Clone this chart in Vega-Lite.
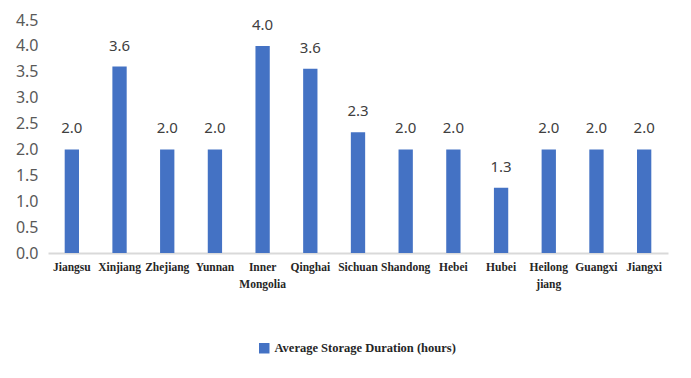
{
  "$schema": "https://vega.github.io/schema/vega-lite/v6.json",
  "width": 620,
  "height": 233,
  "autosize": {"type": "none"},
  "padding": {"left": 48, "top": 20, "right": 23, "bottom": 125},
  "background": "white",
  "config": {"view": {"stroke": null}},
  "data": {
    "values": [
      {"province": "Jiangsu", "hours": 2.0},
      {"province": "Xinjiang", "hours": 3.6},
      {"province": "Zhejiang", "hours": 2.0},
      {"province": "Yunnan", "hours": 2.0},
      {"province": "Inner Mongolia", "hours": 4.0},
      {"province": "Qinghai", "hours": 3.56},
      {"province": "Sichuan", "hours": 2.33},
      {"province": "Shandong", "hours": 2.0},
      {"province": "Hebei", "hours": 2.0},
      {"province": "Hubei", "hours": 1.26},
      {"province": "Heilongjiang", "hours": 2.0},
      {"province": "Guangxi", "hours": 2.0},
      {"province": "Jiangxi", "hours": 2.0}
    ]
  },
  "encoding": {
    "x": {
      "field": "province",
      "type": "nominal",
      "sort": null,
      "scale": {"paddingInner": 0.7, "paddingOuter": 0.35},
      "axis": {
        "title": null,
        "labelAngle": 0,
        "labelFont": "Liberation Serif",
        "labelFontWeight": "bold",
        "labelFontSize": 11.5,
        "labelColor": "#262626",
        "labelPadding": 8,
        "labelLineHeight": 17,
        "labelLimit": 0,
        "ticks": false,
        "domainColor": "#D9D9D9",
        "domainWidth": 2,
        "labelExpr": "datum.value == 'Inner Mongolia' ? ['Inner', 'Mongolia'] : datum.value == 'Heilongjiang' ? ['Heilong', 'jiang'] : datum.value"
      }
    },
    "y": {
      "field": "hours",
      "type": "quantitative",
      "scale": {"domain": [0, 4.5], "nice": false},
      "axis": {
        "title": null,
        "values": [0, 0.5, 1, 1.5, 2, 2.5, 3, 3.5, 4, 4.5],
        "format": ".1f",
        "grid": false,
        "domain": false,
        "ticks": false,
        "labelFont": "Noto Sans",
        "labelFontSize": 16,
        "labelColor": "#595959",
        "labelPadding": 10
      }
    }
  },
  "layer": [
    {
      "mark": {"type": "bar"},
      "encoding": {
        "color": {
          "datum": "Average Storage Duration (hours)",
          "type": "nominal",
          "scale": {"range": ["#4472C4"]},
          "legend": {
            "title": null,
            "orient": "none",
            "legendX": 210,
            "legendY": 322,
            "direction": "horizontal",
            "symbolType": "square",
            "symbolSize": 110,
            "symbolStrokeWidth": 0,
            "labelFont": "Liberation Serif",
            "labelFontWeight": "bold",
            "labelFontSize": 12.5,
            "labelColor": "#262626",
            "labelLimit": 0
          }
        }
      }
    },
    {
      "mark": {"type": "text", "baseline": "bottom", "dy": -13, "font": "Noto Sans", "fontSize": 15, "color": "#404040"},
      "encoding": {
        "text": {"field": "hours", "type": "quantitative", "format": ".1f"}
      }
    }
  ]
}
